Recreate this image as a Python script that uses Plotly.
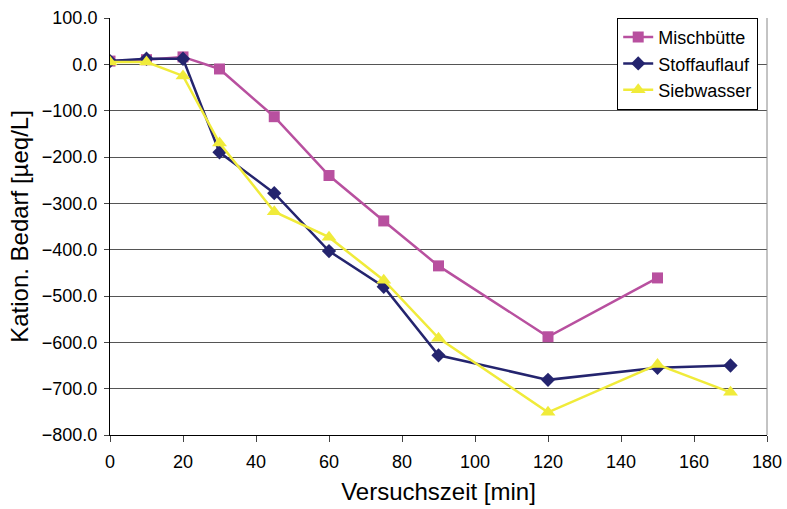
import plotly.graph_objects as go

# Versuchszeit [min]
zeit_misch = [0, 10, 20, 30, 45, 60, 75, 90, 120, 150]
zeit = [0, 10, 20, 30, 45, 60, 75, 90, 120, 150, 170]

# Kationischer Bedarf [µeq/L]
mischbuette = [7, 10, 16, -10, -113, -240, -338, -435, -588, -461]
stoffauflauf = [7, 12, 12, -190, -278, -403, -480, -628, -681, -655, -650]
siebwasser = [5, 5, -25, -170, -318, -373, -466, -591, -751, -648, -708]

x_ticks = list(range(0, 181, 20))
y_ticks = list(range(-800, 101, 100))

fig = go.Figure()
fig.add_trace(go.Scatter(
    x=zeit_misch, y=mischbuette, name="Mischbütte", mode="lines+markers",
    line=dict(color="#B8509F", width=2.5),
    marker=dict(symbol="square", size=11, color="#B8509F")))
fig.add_trace(go.Scatter(
    x=zeit, y=stoffauflauf, name="Stoffauflauf", mode="lines+markers",
    line=dict(color="#24246E", width=2.5),
    marker=dict(symbol="diamond", size=11, color="#24246E")))
fig.add_trace(go.Scatter(
    x=zeit, y=siebwasser, name="Siebwasser", mode="lines+markers",
    line=dict(color="#F0EB3A", width=2.5),
    marker=dict(symbol="triangle-up", size=13, color="#F0EB3A")))

fig.update_layout(
    width=787, height=509,
    margin=dict(l=110, r=20, t=18, b=74),
    paper_bgcolor="white", plot_bgcolor="white",
    font=dict(family="Liberation Sans, Arial, sans-serif", color="black", size=18),
    showlegend=True,
    legend=dict(x=0.772, y=0.89, xanchor="left", yanchor="middle",
                bgcolor="white", bordercolor="black", borderwidth=1,
                font=dict(size=18), tracegroupgap=0, itemwidth=30),
    xaxis=dict(range=[0, 180], tickvals=x_ticks, ticks="outside", ticklen=6,
               showline=True, linecolor="black", linewidth=1, mirror=False,
               showgrid=False, zeroline=False, automargin=False,
               ticklabelstandoff=4,
               title=dict(text="Versuchszeit [min]", font=dict(size=24), standoff=12)),
    yaxis=dict(range=[-800, 100], tickvals=y_ticks, tickformat=".1f",
               ticks="outside", ticklen=5, automargin=False,
               ticklabelstandoff=3,
               showline=True, linecolor="black", linewidth=1,
               showgrid=True, gridcolor="#555555", gridwidth=1, zeroline=False,
               title=dict(text="Kation. Bedarf [µeq/L]", font=dict(size=24), standoff=6)),
)

# right border of the plot area
fig.add_shape(type="line", xref="paper", yref="paper", x0=1, x1=1, y0=0, y1=1,
              line=dict(color="#888888", width=1))

fig.write_html("out.html")
